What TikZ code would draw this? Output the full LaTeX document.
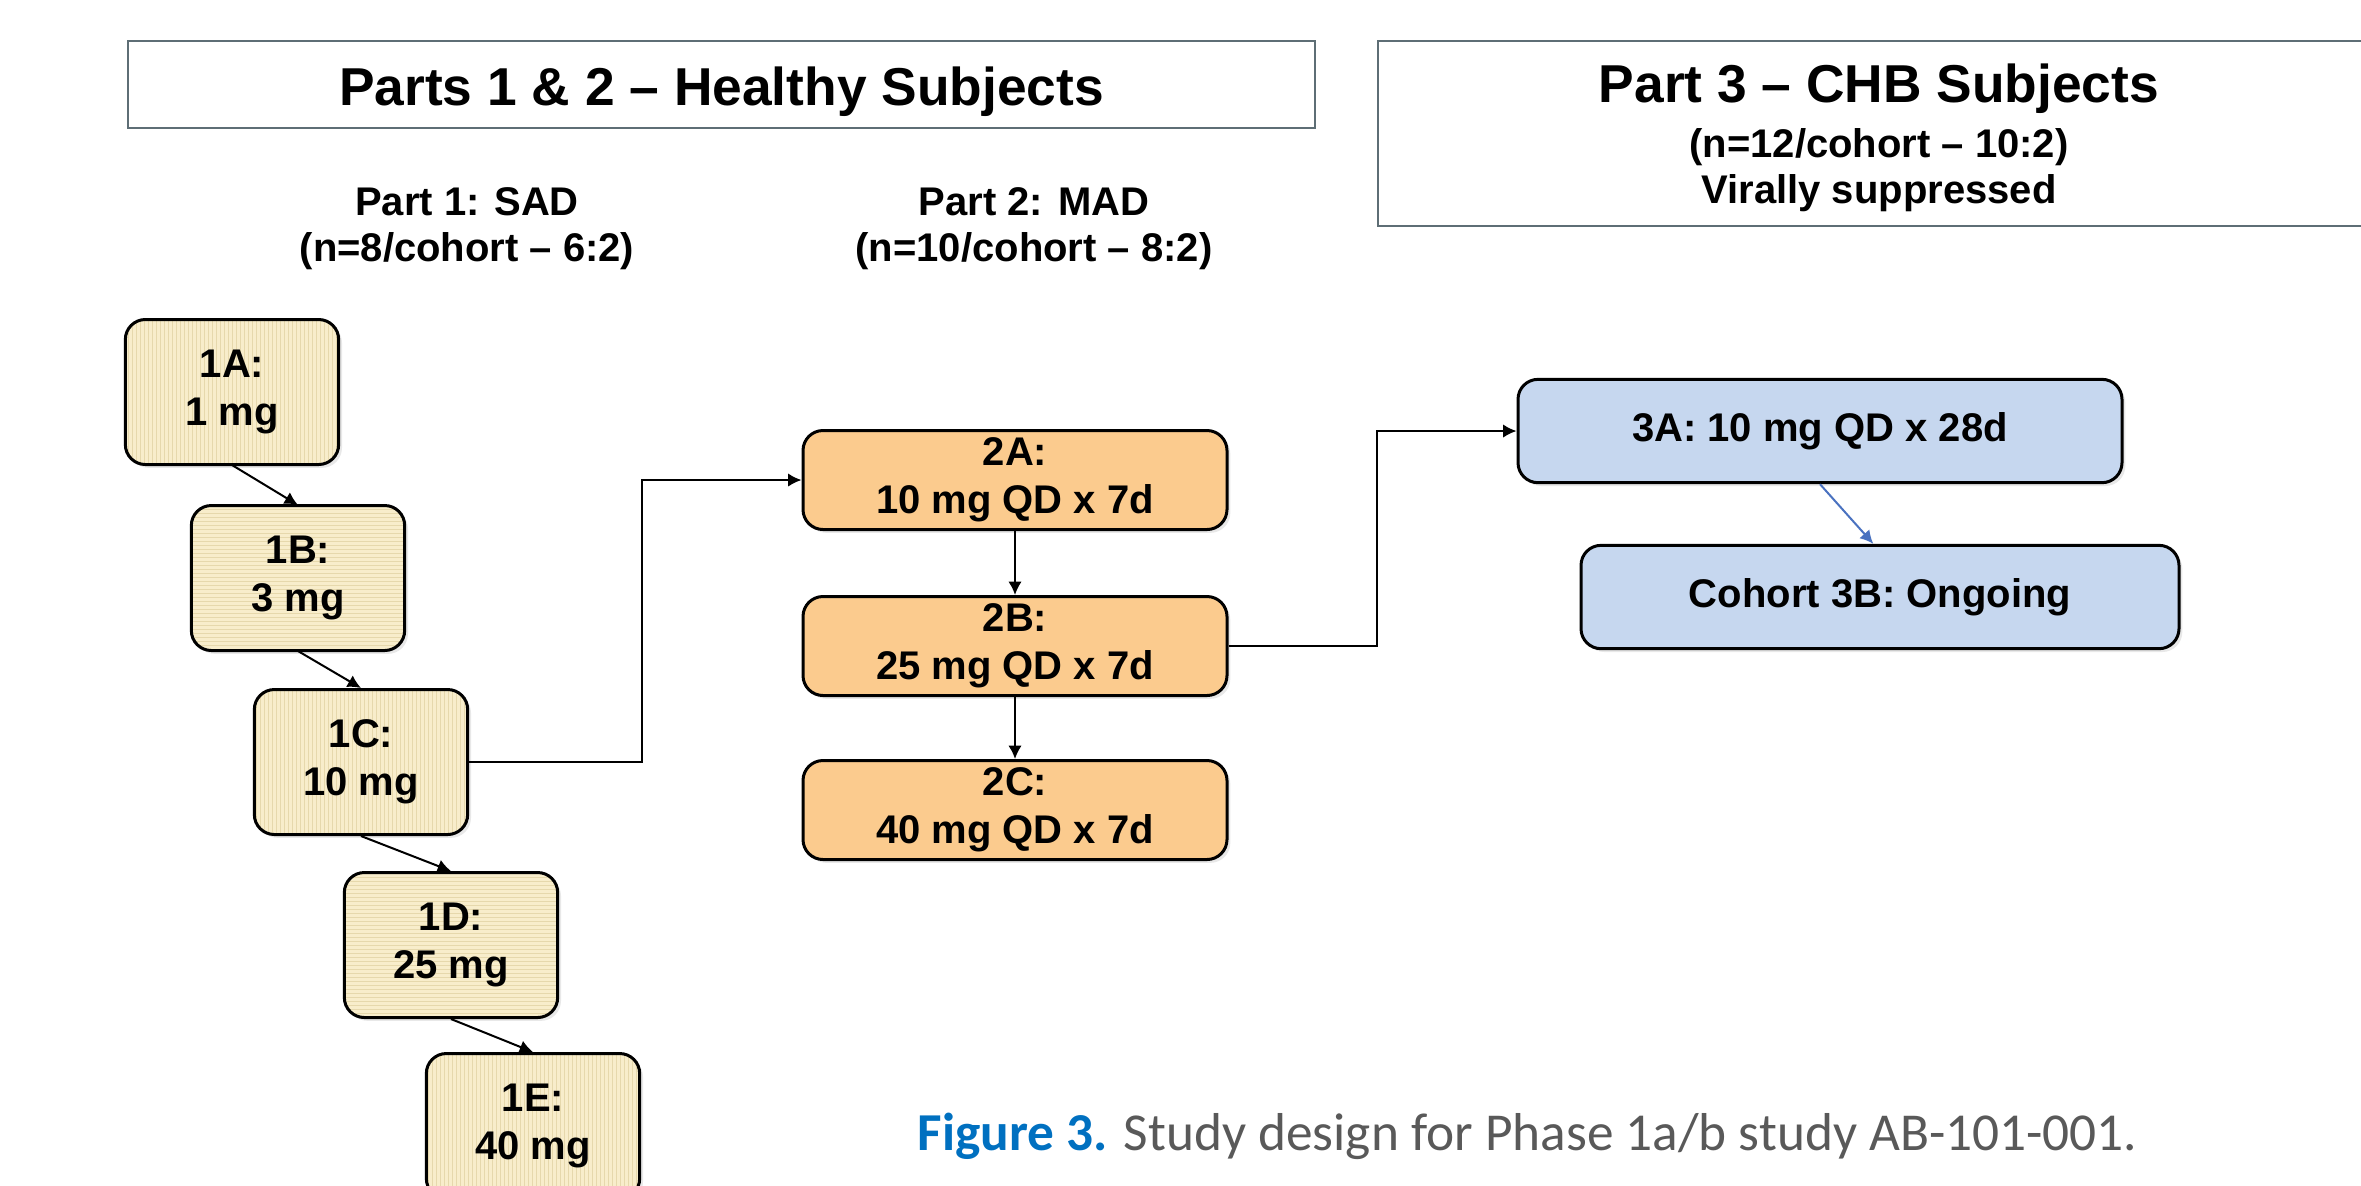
\documentclass[tikz,border=0pt]{standalone}
\usepackage{fontspec}
\setmainfont{Liberation Sans}
\newfontfamily\captionfont{Carlito}
\usetikzlibrary{positioning,arrows.meta,shadows,patterns.meta}

\definecolor{sadfill}{HTML}{F8EDCB}
\definecolor{sadline}{HTML}{E6D8AC}
\definecolor{madfill}{HTML}{FBCB8E}
\definecolor{chbfill}{HTML}{C6D7EF}
\definecolor{headline}{HTML}{5E6E75}
\definecolor{figblue}{HTML}{0070C0}
\definecolor{figgray}{HTML}{595959}
\definecolor{linkblue}{HTML}{4A72C0}

\tikzset{%
        every cohort/.style={
            draw=black,
            line width=0.9pt,
            rounded corners=6pt,
            align=center,
            inner sep=0pt,
            font=\bfseries\fontsize{12}{14.4}\selectfont,
            drop shadow={shadow xshift=1pt, shadow yshift=-1pt, opacity=0.18}
        },
        cohort sad/.style={
            minimum width=64pt,
            minimum height=43.5pt,
            preaction={fill=sadfill},
            pattern={Lines[angle=#1, distance=1.2pt, line width=0.3pt]},
            pattern color=sadline
        },
        cohort mad/.style={
            minimum width=127.2pt,
            minimum height=29.7pt,
            fill=madfill
        },
        cohort chb/.style={
            minimum width=179.4pt,
            minimum height=31pt,
            fill=chbfill
        },
        part header/.style={
            draw=headline,
            line width=0.8pt,
            inner sep=0pt
        },
        part title/.style={
            inner sep=0pt,
            font=\bfseries\fontsize{16}{19}\selectfont
        },
        part label/.style={
            align=center,
            inner sep=0pt,
            font=\bfseries\fontsize{12}{13.8}\selectfont
        },
    }

\begin{document}
\begin{tikzpicture}[x=0.3pt, y=-0.3pt, >={Latex[length=4pt, width=4pt]}]

        \useasboundingbox (0,0) rectangle (2361,1185);

        % headers
        \node [part header, minimum width=356.1pt, minimum height=26.1pt] (head-healthy) at (721.5,84.5) {};
        \node [part title] (title-healthy) at (721.5,92) {Parts 1 \& 2 -- Healthy Subjects};
        \node [part header, minimum width=300pt, minimum height=55.5pt] (head-chb) at (1878,133.5) {};
        \node [part title] (title-chb) at (1879,89) {Part 3 -- CHB Subjects};
        \node [part label] (info-chb) at (1879,170) {(n=12/cohort -- 10:2)\\Virally suppressed};

        \node [part label] (label-sad) at (467,229) {Part 1: SAD\\(n=8/cohort -- 6:2)};
        \node [part label] (label-mad) at (1034,229) {Part 2: MAD\\(n=10/cohort -- 8:2)};

        % cohorts
        \foreach \id/\dose/\x/\y/\a in {A/1/232/392/90, B/3/298/578/0, C/10/361/762/90, D/25/451/945/0, E/40/533/1126/90}
        \node [every cohort, cohort sad=\a] (sad-\id) at (\x,\y) {1\id:\\\dose~mg};

        \foreach \id/\dose/\y in {A/10/480, B/25/646, C/40/810}
        \node [every cohort, cohort mad] (mad-\id) at (1015,\y) {2\id:\\\dose~mg QD x 7d};

        \node [every cohort, cohort chb, minimum width=181.2pt] (chb-A) at (1820,431) {3A: 10 mg QD x 28d};
        \node [every cohort, cohort chb] (chb-B) at (1880,597) {Cohort 3B: Ongoing};

        % links
        \foreach \a/\b in {A/B, B/C, C/D, D/E}
        \draw [->, line width=0.6pt] (sad-\a.south) -- (sad-\b.north);

        \foreach \a/\b in {A/B, B/C}
        \draw [->, line width=0.6pt] (mad-\a.south) -- (mad-\b.north);

        \draw [->, line width=0.6pt] (sad-C.east) -- ++(173,0) |- (mad-A.west);
        \draw [->, line width=0.6pt] (mad-B.east) -- ++(148,0) |- (chb-A.west);
        \draw [->, line width=0.6pt, linkblue] (chb-A.south) -- ([xshift=-2pt]chb-B.north);

        \node [anchor=base west, inner sep=0pt, text=figgray, font=\captionfont\fontsize{16}{19}\selectfont] (caption) at (917,1150) {\textcolor{figblue}{\bfseries Figure 3.} Study design for Phase 1a/b study AB-101-001.};
    \end{tikzpicture}
\end{document}
